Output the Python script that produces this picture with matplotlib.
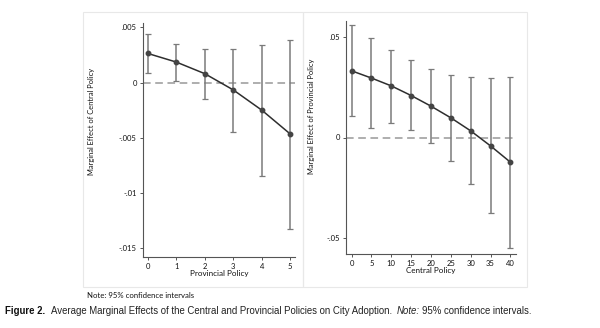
import numpy as np
import matplotlib
matplotlib.use('Agg')
import matplotlib.pyplot as plt
from matplotlib.patches import Rectangle

plt.rcParams['font.family'] = ['Lato', 'DejaVu Sans']

# marginal effect of central policy, by provincial policy
prov_x = [0, 1, 2, 3, 4, 5]
prov_me = [0.00264, 0.00186, 0.00081, -0.00066, -0.00249, -0.00465]
prov_hi = [0.00444, 0.00354, 0.00303, 0.00303, 0.00345, 0.00384]
prov_lo = [0.00084, 0.00012, -0.00153, -0.00444, -0.00847, -0.01324]
prov_yticks = [0.005, 0, -0.005, -0.01, -0.015]
prov_ylabels = ['.005', '0', '-.005', '-.01', '-.015']

# marginal effect of provincial policy, by central policy
cent_x = [0, 5, 10, 15, 20, 25, 30, 35, 40]
cent_me = [0.0332, 0.0296, 0.0257, 0.0209, 0.0156, 0.0098, 0.0033, -0.0042, -0.0123]
cent_hi = [0.0558, 0.0497, 0.0435, 0.0384, 0.0339, 0.0311, 0.0299, 0.0294, 0.0301]
cent_lo = [0.0105, 0.0047, 0.0071, 0.0037, -0.0025, -0.0115, -0.0233, -0.0377, -0.0550]
cent_yticks = [0.05, 0, -0.05]
cent_ylabels = ['.05', '0', '-.05']

W, H = 600, 328
fig = plt.figure(figsize=(6, 3.28), dpi=100)

# light frames around the two graphs
for x0, x1 in [(83, 303), (303, 527)]:
    fig.patches.append(Rectangle((x0 / W, 1 - 287 / H), (x1 - x0) / W, 275 / H,
                                 transform=fig.transFigure, fill=False,
                                 edgecolor='#e8e8e8', linewidth=0.8))


def panel(rect, x, me, lo, hi, xlim, ylim, yticks, ylabels, xlabel, ylabel, ylab_y, ylab_x):
    ax = fig.add_axes(rect)
    me = np.array(me)
    err = [me - np.array(lo), np.array(hi) - me]
    ax.axhline(0, color='#999999', linestyle=(0, (5, 3)), linewidth=1.1, zorder=1)
    ax.errorbar(x, me, yerr=err, fmt='none', ecolor='#7a7a7a', elinewidth=1.1,
                capsize=2.5, capthick=0.9, zorder=2)
    ax.plot(x, me, color='#2e2e2e', linewidth=1.1, marker='o', markersize=3.2,
            markerfacecolor='#444444', markeredgecolor='#444444', zorder=3)
    ax.set_xlim(*xlim)
    ax.set_ylim(*ylim)
    ax.set_xticks(x)
    ax.set_xticklabels([str(v) for v in x])
    ax.set_yticks(yticks)
    ax.set_yticklabels(ylabels)
    for s in ['top', 'right']:
        ax.spines[s].set_visible(False)
    for s in ['left', 'bottom']:
        ax.spines[s].set_color('#555555')
        ax.spines[s].set_linewidth(0.8)
    ax.tick_params(labelsize=5.5, length=2.5, width=0.7, colors='#555555',
                   labelcolor='#111111', pad=2)
    ax.set_xlabel(xlabel, fontsize=5.8, labelpad=0, color='#111111')
    ax.set_ylabel(ylabel, fontsize=5.4, color='#111111')
    ax.yaxis.set_label_coords(ylab_x, ylab_y)
    return ax


panel([143 / W, 1 - 257 / H, 152 / W, 234 / H], prov_x, prov_me, prov_lo, prov_hi,
      (-0.17, 5.17), (-0.0158, 0.0054), prov_yticks, prov_ylabels,
      'Provincial Policy', 'Marginal Effect of Central Policy', 0.58, -0.315)

panel([346 / W, 1 - 254 / H, 170 / W, 233 / H], cent_x, cent_me, cent_lo, cent_hi,
      (-1.4, 41.4), (-0.058, 0.058), cent_yticks, cent_ylabels,
      'Central Policy', 'Marginal Effect of Provincial Policy', 0.59, -0.18)

fig.text(87 / W, 1 - 296 / H, 'Note: 95% confidence intervals', fontsize=5.6,
         va='center', color='#111111')

# caption with bold label and italic note
cap_y = 1 - 311 / H
cap_font = ['Liberation Sans', 'DejaVu Sans']
t1 = fig.text(5 / W, cap_y, 'Figure 2.', fontsize=6.9, fontweight='bold', va='center',
              color='#111111', family=cap_font)
fig.canvas.draw()
bb = t1.get_window_extent()
t2 = fig.text(bb.x1 / W + 6 / W, cap_y,
              'Average Marginal Effects of the Central and Provincial Policies on City Adoption.',
              fontsize=6.9, va='center', color='#222222', family=cap_font)
fig.canvas.draw()
bb = t2.get_window_extent()
t3 = fig.text(bb.x1 / W + 4 / W, cap_y, 'Note:', fontsize=6.9, style='italic', va='center',
              color='#222222', family=cap_font)
fig.canvas.draw()
bb = t3.get_window_extent()
fig.text(bb.x1 / W + 3 / W, cap_y, '95% confidence intervals.', fontsize=6.9, va='center',
         color='#222222', family=cap_font)

fig.savefig('out.png', dpi=100)
